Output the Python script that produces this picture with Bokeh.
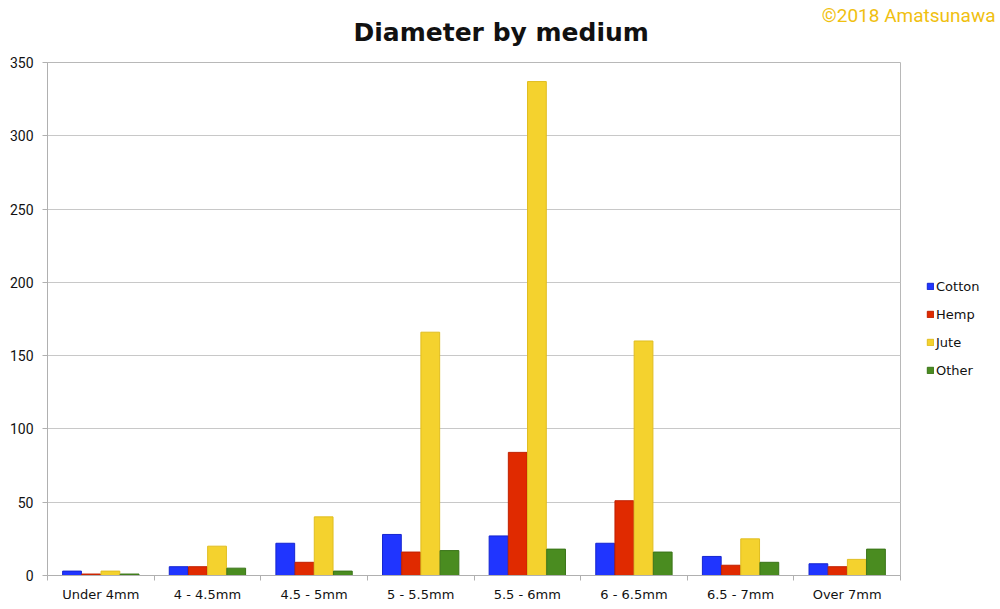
from bokeh.plotting import figure
from bokeh.models import ColumnDataSource, FixedTicker, Legend, LegendItem, Title, Range1d
from bokeh.embed import file_html
from bokeh.resources import INLINE

categories = ["Under 4mm", "4 - 4.5mm", "4.5 - 5mm", "5 - 5.5mm", "5.5 - 6mm", "6 - 6.5mm", "6.5 - 7mm", "Over 7mm"]
cotton = [3, 6, 22, 28, 27, 22, 13, 8]
hemp = [1, 6, 9, 16, 84, 51, 7, 6]
jute = [3, 20, 40, 166, 337, 160, 25, 11]
other = [1, 5, 3, 17, 18, 16, 9, 18]
series = [("Cotton", cotton, "#2035ff", "#1525d0"),
          ("Hemp", hemp, "#e02a00", "#c02000"),
          ("Jute", jute, "#f4d22e", "#e0bd20"),
          ("Other", other, "#4a8c20", "#3a7418")]
y_ticks = [0, 50, 100, 150, 200, 250, 300, 350]

p = figure(frame_width=853, frame_height=513, output_backend="svg", toolbar_location=None,
           x_range=Range1d(0, len(categories)), y_range=Range1d(0, 350),
           min_border_left=47, min_border_right=98, min_border_bottom=32, min_border_top=62)
p.background_fill_color = "white"
p.border_fill_color = "white"
p.outline_line_color = "#b8b8b8"

centers = [i + 0.5 for i in range(len(categories))]
offsets = [-0.27, -0.09, 0.09, 0.27]
bw = 0.176
renderers = []
for (name, vals, col, lc), off in zip(series, offsets):
    src = ColumnDataSource(dict(x=[c + off for c in centers], top=vals))
    r = p.vbar(x="x", top="top", width=bw, source=src, fill_color=col, line_color=lc, line_width=1)
    renderers.append((name, r))

# x axis
p.xaxis.ticker = FixedTicker(ticks=centers, minor_ticks=list(range(len(categories) + 1)))
p.xaxis.major_label_overrides = {c: lab for c, lab in zip(centers, categories)}
p.xaxis.major_tick_line_color = None
p.xaxis.minor_tick_line_color = "#b0b0b0"
p.xaxis.minor_tick_out = 5
p.xaxis.minor_tick_in = 0
p.xaxis.axis_line_color = "#b0b0b0"
p.xaxis.major_label_text_font = "DejaVu Sans"
p.xaxis.major_label_text_font_size = "13px"
p.xaxis.major_label_text_color = "#111111"
p.xaxis.major_label_standoff = 5
p.xgrid.visible = False

# y axis
p.yaxis.ticker = FixedTicker(ticks=y_ticks)
p.yaxis.minor_tick_line_color = None
p.yaxis.major_tick_out = 5
p.yaxis.major_tick_in = 0
p.yaxis.major_tick_line_color = "#b0b0b0"
p.yaxis.axis_line_color = "#b0b0b0"
p.yaxis.major_label_text_font = "Roboto"
p.yaxis.major_label_text_font_size = "14px"
p.yaxis.major_label_text_color = "#111111"
p.yaxis.major_label_standoff = 9
p.ygrid.grid_line_color = "#c8c8c8"

legend = Legend(items=[LegendItem(label=n, renderers=[r]) for n, r in renderers],
                location=(26, 195), orientation="vertical",
                border_line_color=None, background_fill_alpha=0,
                label_text_font="DejaVu Sans", label_text_font_size="13px",
                label_text_color="#111111", glyph_width=8, glyph_height=8,
                label_height=20, spacing=8, label_standoff=2, padding=0, margin=0)
p.add_layout(legend, "right")

p.add_layout(Title(text="Diameter by medium", align="left", offset=306,
                   text_font="DejaVu Sans", text_font_style="bold", text_font_size="25px",
                   text_color="#111111", standoff=31), "above")
p.add_layout(Title(text="\u00a92018 Amatsunawa", align="right", offset=-95,
                   text_font="Roboto", text_font_style="normal", text_font_size="19px",
                   text_color="#f0c010", standoff=-52), "above")

open("out.html", "w").write(file_html(p, INLINE))
